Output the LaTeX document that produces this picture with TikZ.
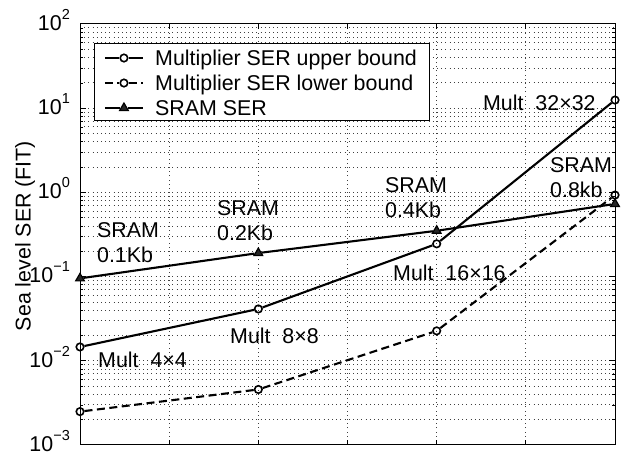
\documentclass[tikz,border=0pt]{standalone}
\usepackage{fontspec}
\setmainfont{Liberation Sans}
\usetikzlibrary{shapes.geometric}

\newcommand{\tenexp}[1]{10\raisebox{11pt}{\fontsize{14.5}{15}\selectfont #1}}

\begin{document}
\begin{tikzpicture}[x=89.17pt,y=84.2pt,
  every node/.style={font=\fontsize{21.4}{25}\selectfont},
  grid/.style={black!75,line width=0.8pt,dash pattern=on 0.8pt off 3.4pt},
  upper/.style={line width=2.1pt},
  lower/.style={line width=2.1pt,dash pattern=on 8pt off 4.5pt},
  circ/.style={draw,circle,line width=1.6pt,inner sep=0pt,minimum size=7.5pt},
  tri/.style={draw,fill=black!85,line width=1.2pt,regular polygon,regular polygon sides=3,
              inner sep=0pt,minimum size=10pt},
  lbl/.style={anchor=base west,inner sep=0pt},
  lbltwo/.style={anchor=north west,align=left,inner sep=0pt}]
\useasboundingbox (-0.8972,-3.1188) rectangle (6.0783,2.2850);

% grid
\foreach \d in {-3,...,1}{
  \foreach \k in {2,...,9}
    \draw[grid] (0,{\d+log10(\k)}) -- (6,{\d+log10(\k)});
}
\foreach \d in {-2,...,1} \draw[grid] (0,\d) -- (6,\d);
\foreach \x in {1,...,5} \draw[grid] (\x,-3) -- (\x,2);

% ticks
\foreach \x in {1,...,5}{
  \draw[line width=0.8pt] (\x,-3) -- ++(0pt,5pt);
  \draw[line width=0.8pt] (\x,2) -- ++(0pt,-5pt);
}
\foreach \d in {-2,...,1}{
  \draw[line width=0.8pt] (0,\d) -- ++(6pt,0pt);
  \draw[line width=0.8pt] (6,\d) -- ++(-6pt,0pt);
}
\foreach \d in {-3,...,1}{
  \foreach \k in {2,...,9}{
    \draw[line width=0.6pt] (0,{\d+log10(\k)}) -- ++(3pt,0pt);
    \draw[line width=0.6pt] (6,{\d+log10(\k)}) -- ++(-3pt,0pt);
  }
}
\draw[line width=1pt] (0,-3) rectangle (6,2);

% y axis
\foreach \d/\e [count=\i] in {-3/−3,-2/−2,-1/−1,0/0,1/1,2/2}
  \node[anchor=base east,inner sep=0pt] (ytick\i) at (-0.112,\d-0.075) {\tenexp{\e}};
\node[rotate=90] (ylabel) at (-0.617,-0.518) {Sea level SER (FIT)};

% data points
\node[circ] (u1) at (0,{log10(0.0146)}) {};
\node[circ] (u2) at (2,{log10(0.041)}) {};
\node[circ] (u3) at (4,{log10(0.245)}) {};
\node[circ] (u4) at (6,{log10(12.5)}) {};
\node[circ] (l1) at (0,{log10(0.00247)}) {};
\node[circ] (l2) at (2,{log10(0.0045)}) {};
\node[circ] (l3) at (4,{log10(0.0226)}) {};
\node[circ] (l4) at (6,{log10(0.93)}) {};
\node[tri] (s1) at (0,{log10(0.095)}) {};
\node[tri] (s2) at (2,{log10(0.19)}) {};
\node[tri] (s3) at (4,{log10(0.35)}) {};
\node[tri] (s4) at (6,{log10(0.73)}) {};
\draw[upper] (u1) -- (u2) -- (u3) -- (u4);
\draw[lower] (l1) -- (l2) -- (l3) -- (l4);
\draw[upper] (s1) -- (s2) -- (s3) -- (s4);

% labels
\node[lbltwo] (ls1) at (0.19,-0.357) {SRAM\\0.1Kb};
\node[lbltwo] (ls2) at (1.536,-0.096) {SRAM\\0.2Kb};
\node[lbltwo] (ls3) at (3.42,0.177) {SRAM\\0.4Kb};
\node[lbltwo] (ls4) at (5.271,0.4145) {SRAM\\0.8kb};
\node[lbl] (lm1) at (0.202,-2.080) {Mult~~4×4};
\node[lbl] (lm2) at (1.682,-1.795) {Mult~~8×8};
\node[lbl] (lm3) at (3.51,-1.046) {Mult~~16×16};
\node[lbl] (lm4) at (4.519,0.973) {Mult~~32×32};

% legend
\node[draw,fill=white,line width=1pt,inner sep=0pt,anchor=north west,
      minimum width=335pt,minimum height=77pt] (legend) at (0.157,1.774) {};
\coordinate (k1a) at (0.28,1.596);  \coordinate (k1b) at (0.707,1.596);
\coordinate (k2a) at (0.28,1.299);  \coordinate (k2b) at (0.707,1.299);
\coordinate (k3a) at (0.28,1.002);  \coordinate (k3b) at (0.707,1.002);
\node[circ] (k1m) at (0.493,1.596) {};
\node[circ] (k2m) at (0.493,1.299) {};
\node[tri] (k3m) at (0.493,1.002) {};
\draw[upper] (k1a) -- (k1m) -- (k1b);
\draw[lower] (k2a) -- (k2m) -- (k2b);
\draw[upper] (k3a) -- (k3m) -- (k3b);
\node[lbl] (k1t) at (0.841,1.507) {Multiplier SER upper bound};
\node[lbl] (k2t) at (0.841,1.210) {Multiplier SER lower bound};
\node[lbl] (k3t) at (0.841,0.913) {SRAM SER};
\end{tikzpicture}
\end{document}
